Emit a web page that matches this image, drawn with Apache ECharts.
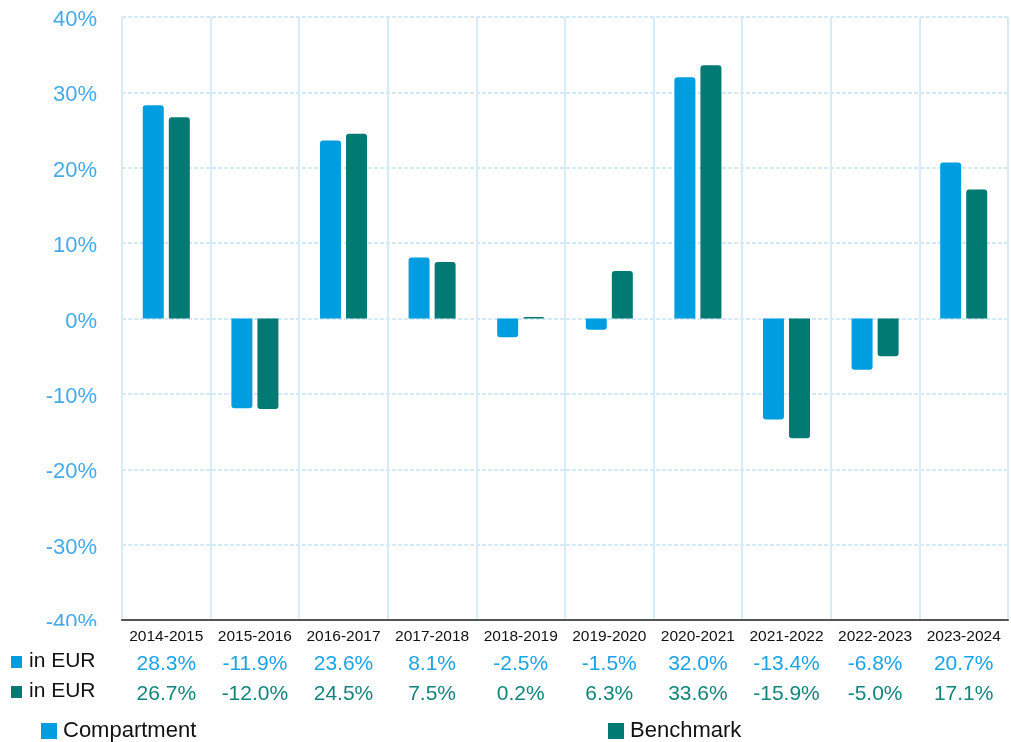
<!DOCTYPE html>
<html>
<head>
<meta charset="utf-8">
<script src="https://cdn.jsdelivr.net/npm/echarts@6/dist/echarts.min.js"></script>
<style>
  html, body { margin: 0; padding: 0; background: #fff; }
  #chart { width: 1011px; height: 742px; }
</style>
</head>
<body>
<div id="chart"></div>
<script>
// Annual performance by period
const periods = ['2014-2015', '2015-2016', '2016-2017', '2017-2018', '2018-2019',
                 '2019-2020', '2020-2021', '2021-2022', '2022-2023', '2023-2024'];
const compartment = [28.3, -11.9, 23.6, 8.1, -2.5, -1.5, 32.0, -13.4, -6.8, 20.7];
const benchmark   = [26.7, -12.0, 24.5, 7.5, 0.2, 6.3, 33.6, -15.9, -5.0, 17.1];
const yTicks = { min: -40, max: 40, step: 10 };

const BLUE = '#009ee0';
const TEAL = '#007a73';
const FONT = 'Liberation Sans, Arial, sans-serif';

const fmt = v => v.toFixed(1) + '%';

// rounded corners on the far end of each bar
const barData = arr => arr.map(v => ({
  value: v,
  itemStyle: { borderRadius: v >= 0 ? [3, 3, 0, 0] : [0, 0, 3, 3] }
}));

const valueRow = (labels, color, offset) => ({
  type: 'category',
  data: labels,
  position: 'bottom',
  offset: offset,
  axisLine: { show: false },
  axisTick: { show: false },
  splitLine: { show: false },
  axisLabel: { color: color, fontSize: 21, fontFamily: FONT, margin: 7, interval: 0 }
});

const chart = echarts.init(document.getElementById('chart'), null, { renderer: 'canvas' });

chart.setOption({
  animation: false,
  textStyle: { fontFamily: FONT },
  grid: { left: 122, right: 3, top: 17, bottom: 122, containLabel: false },
  legend: [
    {
      data: ['Compartment'], left: 36, top: 715, icon: 'rect',
      itemWidth: 16, itemHeight: 16, itemGap: 10,
      textStyle: { fontSize: 22, color: '#111', fontFamily: FONT, padding: [0, 0, 0, 1] }
    },
    {
      data: ['Benchmark'], left: 603, top: 715, icon: 'rect',
      itemWidth: 16, itemHeight: 16, itemGap: 10,
      textStyle: { fontSize: 22, color: '#111', fontFamily: FONT, padding: [0, 0, 0, 1] }
    }
  ],
  xAxis: [
    {
      type: 'category',
      data: periods,
      position: 'bottom',
      axisLine: { show: true, onZero: false, lineStyle: { color: '#555', width: 2 } },
      axisTick: { show: false },
      axisLabel: { color: '#111', fontSize: 15.5, fontFamily: FONT, margin: 9, interval: 0 },
      splitLine: { show: true, interval: 0, lineStyle: { color: '#d8ebf8', width: 2, type: 'solid' } }
    },
    valueRow(compartment.map(fmt), '#1aa3e6', 27),
    valueRow(benchmark.map(fmt), '#12857c', 57)
  ],
  yAxis: {
    type: 'value',
    min: yTicks.min,
    max: yTicks.max,
    interval: yTicks.step,
    axisLine: { show: false },
    axisTick: { show: false },
    axisLabel: {
      formatter: '{t|{value}%}', margin: 25,
      rich: { t: { color: '#45aae6', fontSize: 22, fontFamily: FONT, padding: [6, 0, 0, 0] } }
    },
    splitLine: { show: true, lineStyle: { color: '#d3e9f7', width: 2, type: [4, 2] } }
  },
  series: [
    {
      name: 'Compartment', type: 'bar', xAxisIndex: 0,
      data: barData(compartment),
      barWidth: 21, barGap: '24%',
      itemStyle: { color: BLUE }
    },
    {
      name: 'Benchmark', type: 'bar', xAxisIndex: 0,
      data: barData(benchmark),
      barWidth: 21, barGap: '24%',
      itemStyle: { color: TEAL }
    }
  ],
  graphic: [
    // the lowest tick label is cut off by the table below the axis
    { type: 'rect', left: 0, top: 626, shape: { width: 116, height: 20 }, style: { fill: '#fff' }, z: 100 },
    { type: 'rect', left: 11, top: 656, shape: { width: 11, height: 12 }, style: { fill: BLUE }, z: 100 },
    { type: 'text', left: 29, top: 651, style: { text: 'in EUR', fill: '#111', font: '21px ' + FONT }, z: 100 },
    { type: 'rect', left: 11, top: 686, shape: { width: 11, height: 12 }, style: { fill: TEAL }, z: 100 },
    { type: 'text', left: 29, top: 681, style: { text: 'in EUR', fill: '#111', font: '21px ' + FONT }, z: 100 }
  ]
});
</script>
</body>
</html>
